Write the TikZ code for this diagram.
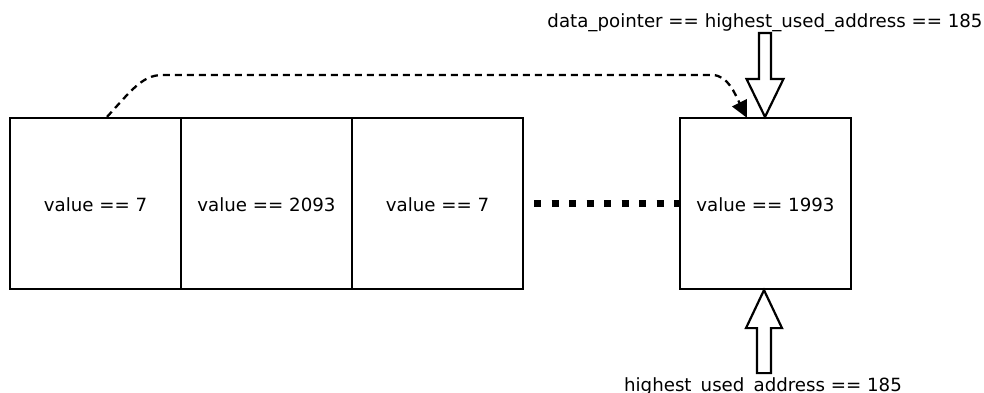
\documentclass[tikz,border=0pt]{standalone}
\usepackage{fontspec}
\setmainfont{DejaVu Sans}
\usetikzlibrary{arrows.meta}
\begin{document}
\begin{tikzpicture}[x=1pt,y=-1pt,
  cell/.style={draw,line width=2.2pt,minimum width=171pt,minimum height=171pt,inner sep=0pt,
    text height=16.8pt,text depth=0pt,font=\fontsize{18.2}{20}\selectfont},
  label/.style={font=\fontsize{18.2}{20}\selectfont,inner sep=0pt,anchor=base},
  blockarrow/.style={draw,fill=white,line width=2.2pt,line join=miter},
  link/.style={line width=2.3pt,dash pattern=on 7pt off 5pt,-{Triangle[length=17pt,width=16pt]}},
  gap/.style={line width=7pt,dash pattern=on 7pt off 10.5pt}]
  \useasboundingbox (0,0) rectangle (984,392);

  % memory cells
  \node[cell] (c1) at (95.5,203.5) {value == 7};
  \node[cell] (c2) at (266.5,203.5) {value == 2093};
  \node[cell] (c3) at (437.5,203.5) {value == 7};
  \node[cell] (c4) at (765.5,203.5) {value == 1993};

  % elided cells in between
  \coordinate (gs) at ([xshift=10pt]c3.east);
  \draw[gap] (gs) -- (c4.west);

  % pointer labels
  \node[label] (top) at (765,27) {data\_pointer == highest\_used\_address == 185};
  \node[label] (bot) at (763,391) {highest\_used\_address == 185};

  % block arrow from the top label down to the last cell
  \draw[blockarrow] ([xshift=-0.5pt]c4.north) -- ++(-18.5,-38) -- ++(12.5,0) -- ++(0,-46)
    -- ++(12,0) -- ++(0,46) -- ++(12.5,0) -- cycle;

  % block arrow from the bottom label up to the last cell
  \draw[blockarrow] ([xshift=-1.5pt]c4.south) -- ++(-18,38) -- ++(11,0) -- ++(0,45)
    -- ++(14,0) -- ++(0,-45) -- ++(11,0) -- cycle;

  % dashed link from the first cell to the last
  \coordinate (ls) at ([xshift=11.5pt]c1.north);
  \coordinate (le) at ([xshift=-18.5pt,yshift=-1pt]c4.north);
  \draw[link] (ls) .. controls (130,92) and (142,75) .. (162,75) -- (712,75)
    .. controls (728,75) and (735,94) .. (le);
\end{tikzpicture}
\end{document}
